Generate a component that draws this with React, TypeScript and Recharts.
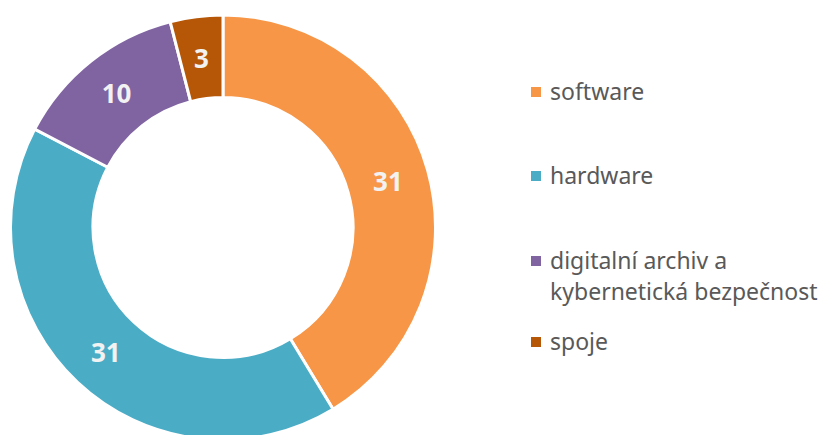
import { PieChart, Pie, Cell, Legend } from "recharts";

const categories = ["software", "hardware", "digitalní archiv a\nkybernetická bezpečnost", "spoje"];
const counts = [31, 31, 10, 3];
const colors = ["#F79646", "#4BACC6", "#8064A2", "#B65708"];

const data = categories.map((name, i) => ({ name, value: counts[i] }));

const FONT = "'Noto Sans', 'Open Sans', sans-serif";
const RAD = Math.PI / 180;

const SliceLabel = (props: any) => {
  const { cx, cy, midAngle, innerRadius, outerRadius, value } = props;
  const r = (innerRadius + outerRadius) / 2;
  const x = cx + r * Math.cos(-midAngle * RAD);
  const y = cy + r * Math.sin(-midAngle * RAD);
  return (
    <text x={x} y={y} fill="#F2F2F2" fontSize={26} fontWeight={700} fontFamily={FONT}
      textAnchor="middle" dominantBaseline="central">
      {value}
    </text>
  );
};

// gaps above each legend entry (Excel spreads them unevenly)
const legendGaps = [0, 53, 54, 19];

const LegendBox = () => (
  <div style={{ fontFamily: FONT, fontSize: 23, color: "#595959", lineHeight: "31px" }}>
    {data.map((d, i) => (
      <div key={i} style={{ display: "flex", alignItems: "flex-start", marginTop: legendGaps[i] }}>
        <span style={{ width: 10, height: 10, background: colors[i], marginTop: 11, marginRight: 9, flexShrink: 0 }} />
        <span style={{ whiteSpace: "pre" }}>{d.name}</span>
      </div>
    ))}
  </div>
);

export default function App() {
  return (
    <div style={{ position: "absolute", left: 0, top: 0, background: "#fff" }}>
      <PieChart width={822} height={435} margin={{ top: 0, right: 0, bottom: 0, left: 0 }}>
        <Pie
          data={data}
          dataKey="value"
          cx={223}
          cy={227.5}
          innerRadius={130}
          outerRadius={212.5}
          startAngle={90}
          endAngle={-270}
          stroke="#fff"
          strokeWidth={3}
          label={SliceLabel}
          labelLine={false}
          isAnimationActive={false}
        >
          {data.map((_, i) => (
            <Cell key={i} fill={colors[i]} />
          ))}
        </Pie>
        <Legend
          content={<LegendBox />}
          wrapperStyle={{ position: "absolute", left: 531, top: 75.5, width: 290 }}
        />
      </PieChart>
    </div>
  );
}
